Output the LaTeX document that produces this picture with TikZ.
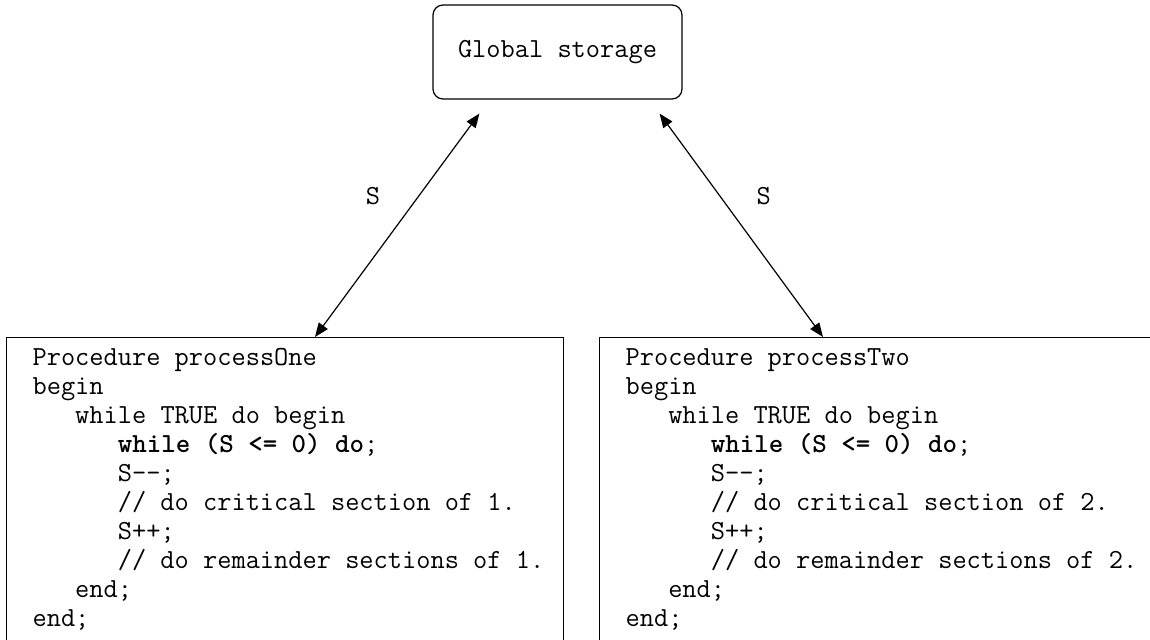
\documentclass[tikz,border=0pt]{standalone}
\usepackage{fontspec}
\usetikzlibrary{arrows.meta,positioning}

\newcommand{\codefont}{\fontsize{13.8}{14.5}\selectfont\ttfamily}
\newcommand{\ind}[1]{\hspace*{#1\fontcharwd\font`\M}}

\tikzset{
  storebox/.style={draw, line width=0.6pt, rounded corners=5pt, minimum width=124.5pt, minimum height=47pt, font=\codefont},
  codebox/.style={draw, line width=0.6pt, anchor=north west, align=flush left, font=\codefont, text width=252.5pt, inner xsep=13pt, inner ysep=5.5pt, text depth=160pt},
  link/.style={{Triangle[length=7pt,width=5.5pt]}-{Triangle[length=7pt,width=5.5pt]}, line width=0.6pt},
  slabel/.style={font=\codefont, inner sep=0pt}
}

\begin{document}
\begin{tikzpicture}[x=0.5pt, y=-0.5pt]
  \useasboundingbox (0,0) rectangle (1150,640);
  % 全局存储
  \node[storebox] (storage) at (557.5,52) {Global storage};

  % 两个进程
  \foreach \name/\x/\num in {One/6/1, Two/599/2} {
    \node[codebox] (proc\name) at (\x,337) {\rightskip=-12pt plus 1fil\relax
      Procedure process\name\\
      begin\\
      \ind{3}while TRUE do begin\\
      \ind{6}\textbf{while (S <= 0) do};\\
      \ind{6}S-{}-;\\
      \ind{6}// do critical section of \num.\\
      \ind{6}S++;\\
      \ind{6}// do remainder sections of \num.\\
      \ind{3}end;\\
      end;};
  }

  % 双向箭头
  \draw[link] ([shift={(47,14)}]storage.south west) -- ([xshift=154.5pt]procOne.north west)
    node[slabel, pos=0.37, left=19pt] {S};
  \draw[link] ([shift={(-23,14)}]storage.south east) -- ([xshift=112pt]procTwo.north west)
    node[slabel, pos=0.37, right=18pt] {S};
\end{tikzpicture}
\end{document}
